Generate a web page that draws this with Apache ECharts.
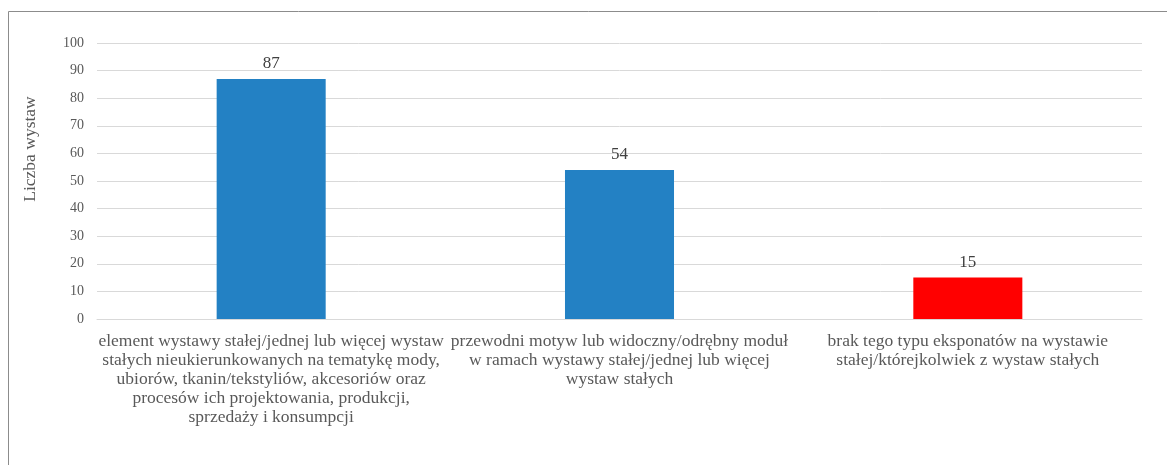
<!DOCTYPE html>
<html>
<head>
<meta charset="utf-8">
<script src="https://cdn.jsdelivr.net/npm/echarts@6/dist/echarts.min.js"></script>
<style>
  html, body { margin: 0; padding: 0; background: #fff; }
  #chart { width: 1167px; height: 465px; }
</style>
</head>
<body>
<div id="chart"></div>
<script>
// Categories of permanent exhibitions and number of exhibitions in each
const categories = [
  'element wystawy stałej/jednej lub więcej wystaw\nstałych nieukierunkowanych na tematykę mody,\nubiorów, tkanin/tekstyliów, akcesoriów oraz\nprocesów ich projektowania, produkcji,\nsprzedaży i konsumpcji',
  'przewodni motyw lub widoczny/odrębny moduł\nw ramach wystawy stałej/jednej lub więcej\nwystaw stałych',
  'brak tego typu eksponatów na wystawie\nstałej/którejkolwiek z wystaw stałych'
];
const values = [87, 54, 15];
const barColors = ['#2381c4', '#2381c4', '#ff0000'];
const axisName = 'Liczba wystaw';

const chart = echarts.init(document.getElementById('chart'));
const serif = '"Liberation Serif", "Times New Roman", serif';

chart.setOption({
  animation: false,
  graphic: [{
    type: 'rect',
    shape: { x: 8.5, y: 11.5, width: 1200, height: 500 },
    style: { fill: 'none', stroke: '#8c8c8c', lineWidth: 1 },
    silent: true
  }],
  grid: { left: 97, right: 25, top: 43, bottom: 146 },
  xAxis: {
    type: 'category',
    data: categories,
    axisTick: { show: false },
    axisLine: { lineStyle: { color: '#d9d9d9', width: 1 } },
    axisLabel: {
      interval: 0,
      margin: 13,
      fontFamily: serif,
      fontSize: 17.5,
      lineHeight: 19,
      color: '#595959',
      align: 'center'
    }
  },
  yAxis: {
    type: 'value',
    min: 0,
    max: 100,
    interval: 10,
    name: axisName,
    nameLocation: 'middle',
    nameRotate: 90,
    nameGap: 58,
    // the title sits above the vertical centre of the plot
    nameTextStyle: { fontFamily: serif, fontSize: 17.5, color: '#595959', padding: [0, 0, 0, 64] },
    axisLine: { show: false },
    axisTick: { show: false },
    axisLabel: { fontFamily: serif, fontSize: 14, color: '#595959', margin: 13 },
    splitLine: { lineStyle: { color: '#d9d9d9', width: 1 } }
  },
  series: [{
    type: 'bar',
    data: values.map((v, i) => ({ value: v, itemStyle: { color: barColors[i] } })),
    barWidth: '31.3%',
    label: {
      show: true,
      position: 'top',
      distance: 7,
      fontFamily: serif,
      fontSize: 17,
      color: '#404040'
    }
  }]
});
</script>
</body>
</html>
